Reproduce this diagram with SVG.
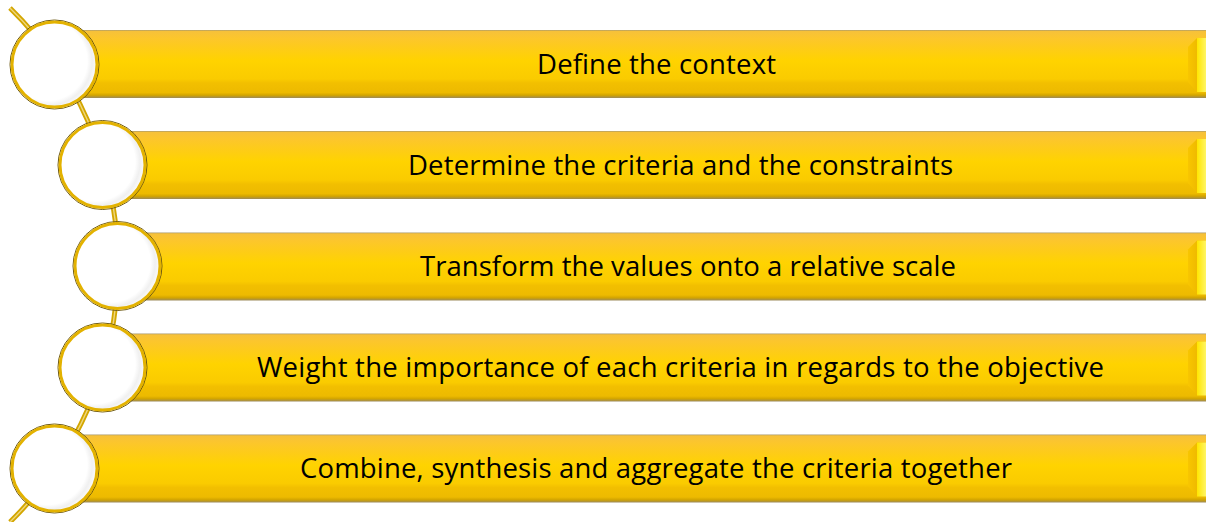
<svg xmlns="http://www.w3.org/2000/svg" width="1206" height="522" viewBox="0 0 1206 522">
  <defs>
    <!-- golden bar body, top to bottom -->
    <linearGradient id="barFill" x1="0" y1="0" x2="0" y2="1">
      <stop offset="0" stop-color="#A99A6C"/>
      <stop offset="0.02" stop-color="#F6C13A"/>
      <stop offset="0.12" stop-color="#FCC62C"/>
      <stop offset="0.45" stop-color="#FFD300"/>
      <stop offset="0.72" stop-color="#FACB00"/>
      <stop offset="0.78" stop-color="#F2BF00"/>
      <stop offset="0.92" stop-color="#EDBA00"/>
      <stop offset="0.96" stop-color="#D2A400"/>
      <stop offset="1" stop-color="#9C8A5A"/>
    </linearGradient>
    <!-- bevelled end cap -->
    <linearGradient id="capShade" x1="0" y1="0" x2="1" y2="0">
      <stop offset="0" stop-color="#F8C600"/>
      <stop offset="1" stop-color="#E7AE00"/>
    </linearGradient>
    <linearGradient id="capFace" x1="0" y1="0" x2="1" y2="0">
      <stop offset="0" stop-color="#FFE600"/>
      <stop offset="1" stop-color="#FFF566"/>
    </linearGradient>
    <!-- white disc with a faint grey rim -->
    <radialGradient id="discFill" cx="0.42" cy="0.46" r="0.58">
      <stop offset="0" stop-color="#FFFFFF"/>
      <stop offset="0.8" stop-color="#FFFFFF"/>
      <stop offset="0.9" stop-color="#F0F0F0"/>
      <stop offset="1" stop-color="#FBFBFB"/>
    </radialGradient>
    <style>
      .bar { fill: url(#barFill); }
      .cap-shade { fill: url(#capShade); }
      .cap-face { fill: url(#capFace); }
      .disc-edge { fill: none; stroke: #6E5A14; stroke-width: 1; }
      .disc { fill: url(#discFill); stroke: #E3B200; stroke-width: 3; }
      .label { font-family: "Open Sans", "Liberation Sans", sans-serif; font-size: 27.5px; fill: #000000; }
      .spine { fill: none; stroke: #D3A600; stroke-width: 5; stroke-linecap: butt; }
      .spine-hi { fill: none; stroke: #EFD77E; stroke-width: 1.4; }
    </style>
  </defs>

  <rect width="1206" height="522" fill="#FFFFFF"/>

  <!-- curved spine linking the discs -->
  <g id="connectors">
    <path class="spine" d="M 10 8 A 360 360 0 0 1 10 522"/>
    <path class="spine-hi" d="M 10 8 A 360 360 0 0 1 10 522"/>
  </g>

  <g id="step1">
    <rect class="bar" x="54" y="30" width="1152" height="68"/>
    <polygon class="cap-shade" points="1188,47 1197,38 1206,38 1206,92 1197,92 1188,82"/>
    <rect class="cap-face" x="1197" y="38" width="9" height="54"/>
    <circle class="disc-edge" cx="54.5" cy="64.5" r="44.5"/>
    <circle class="disc" cx="54.5" cy="64.5" r="42.5"/>
    <text class="label" x="537" y="73.5" textLength="239" lengthAdjust="spacing">Define the context</text>
  </g>

  <g id="step2">
    <rect class="bar" x="102" y="131" width="1104" height="68"/>
    <polygon class="cap-shade" points="1188,148 1197,139 1206,139 1206,193 1197,193 1188,183"/>
    <rect class="cap-face" x="1197" y="139" width="9" height="54"/>
    <circle class="disc-edge" cx="102.5" cy="165" r="44.5"/>
    <circle class="disc" cx="102.5" cy="165" r="42.5"/>
    <text class="label" x="408" y="174.5" textLength="545" lengthAdjust="spacing">Determine the criteria and the constraints</text>
  </g>

  <g id="step3">
    <rect class="bar" x="117" y="232.5" width="1089" height="68"/>
    <polygon class="cap-shade" points="1188,249.5 1197,240.5 1206,240.5 1206,294.5 1197,294.5 1188,284.5"/>
    <rect class="cap-face" x="1197" y="240.5" width="9" height="54"/>
    <circle class="disc-edge" cx="117.5" cy="266" r="44.5"/>
    <circle class="disc" cx="117.5" cy="266" r="42.5"/>
    <text class="label" x="420" y="276" textLength="536" lengthAdjust="spacing">Transform the values onto a relative scale</text>
  </g>

  <g id="step4">
    <rect class="bar" x="102" y="333.5" width="1104" height="68"/>
    <polygon class="cap-shade" points="1188,350.5 1197,341.5 1206,341.5 1206,395.5 1197,395.5 1188,385.5"/>
    <rect class="cap-face" x="1197" y="341.5" width="9" height="54"/>
    <circle class="disc-edge" cx="102.5" cy="367.5" r="44.5"/>
    <circle class="disc" cx="102.5" cy="367.5" r="42.5"/>
    <text class="label" x="257" y="377" textLength="847" lengthAdjust="spacing">Weight the importance of each criteria in regards to the objective</text>
  </g>

  <g id="step5">
    <rect class="bar" x="54" y="434.5" width="1152" height="68"/>
    <polygon class="cap-shade" points="1188,451.5 1197,442.5 1206,442.5 1206,496.5 1197,496.5 1188,486.5"/>
    <rect class="cap-face" x="1197" y="442.5" width="9" height="54"/>
    <circle class="disc-edge" cx="54.5" cy="468.5" r="44.5"/>
    <circle class="disc" cx="54.5" cy="468.5" r="42.5"/>
    <text class="label" x="300" y="478" textLength="712" lengthAdjust="spacing">Combine, synthesis and aggregate the criteria together</text>
  </g>
</svg>
